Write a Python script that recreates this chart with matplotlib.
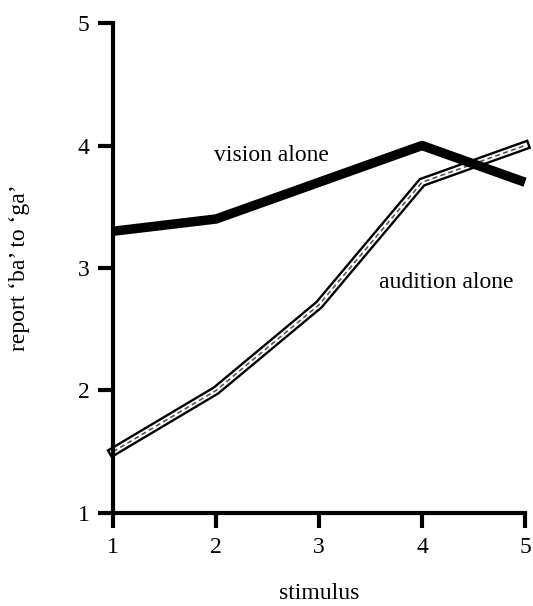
import matplotlib
matplotlib.use('Agg')
import matplotlib.pyplot as plt

plt.rcParams['font.family'] = ['Liberation Serif', 'DejaVu Serif']

stimulus = [1, 2, 3, 4, 5]
vision_alone = [3.3, 3.4, 3.7, 4.0, 3.7]
audition_alone = [1.5, 2.0, 2.7, 3.7, 4.0]
x_ticks = [1, 2, 3, 4, 5]
y_ticks = [1, 2, 3, 4, 5]

fig = plt.figure(figsize=(5.33, 6.06), dpi=100)
ax = fig.add_axes([0.212, 0.1535, 0.773, 0.8085])

# audition: black double line with a pale dashed core
ax.plot(stimulus, audition_alone, color='black', lw=7.0, solid_joinstyle='miter', clip_on=False)
ax.plot(stimulus, audition_alone, color='white', lw=3.6, solid_joinstyle='miter', clip_on=False)
ax.plot(stimulus, audition_alone, color='#555555', lw=1.2, ls=(0, (3, 2)), clip_on=False)

# vision: heavy black line
ax.plot(stimulus, vision_alone, color='black', lw=6.8, solid_capstyle='butt', clip_on=False)

ax.text(2.54, 3.92, 'vision alone', fontsize=17, ha='center', va='center')
ax.text(4.24, 2.88, 'audition alone', fontsize=17, ha='center', va='center')

ax.set_xlim(1, 5)
ax.set_ylim(1, 5)
ax.set_xticks(x_ticks)
ax.set_yticks(y_ticks)
ax.tick_params(axis='both', direction='out', width=3, length=11, labelsize=17, pad=6)

for side in ['top', 'right']:
    ax.spines[side].set_visible(False)
for side in ['left', 'bottom']:
    ax.spines[side].set_linewidth(3)

ax.set_xlabel('stimulus', fontsize=17, labelpad=18)
ax.set_ylabel('report \u2018ba\u2019 to \u2018ga\u2019', fontsize=17, labelpad=34)

fig.savefig('out.png', dpi=100)
